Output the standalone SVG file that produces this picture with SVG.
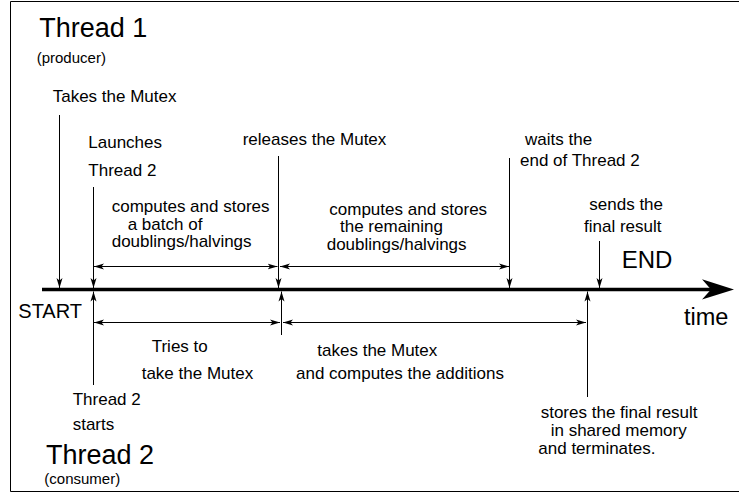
<svg xmlns="http://www.w3.org/2000/svg" width="739" height="493" viewBox="0 0 739 493">
<style>
text{font-family:"Liberation Sans",Arial,Helvetica,sans-serif;fill:#000}
.lbl{font-size:17px}
.small{font-size:15px}
.big{font-size:27px}
.ln{stroke:#000;stroke-width:1;fill:none}
.dn{marker-end:url(#ah)}
.dbl{marker-start:url(#ah);marker-end:url(#ah)}
</style>
<defs>
<marker id="ah" markerUnits="userSpaceOnUse" markerWidth="10" markerHeight="7" refX="10" refY="3.5" orient="auto-start-reverse" viewBox="0 0 10 7">
<path d="M0,0.5 L10,3.5 L0,6.5 L2.5,3.5 z" fill="#000"/>
</marker>
</defs>
<rect width="739" height="493" fill="#fff"/>
<path d="M740 1.5 H10.5 V491.5 H740" fill="none" stroke="#000" stroke-width="1"/>

<g id="axis">
<line x1="42" y1="289.5" x2="712" y2="289.5" stroke="#000" stroke-width="3.5"/>
<polygon points="702,279.3 734,289.5 702,299.5 711,289.5" fill="#000"/>
<text x="18.3" y="318.3" style="font-size:20px">START</text>
<text x="621.7" y="268.3" style="font-size:24px">END</text>
<text x="684" y="325" style="font-size:23.5px">time</text>
</g>

<g id="thread1">
<text class="big" x="39.3" y="37">Thread 1</text>
<text class="small" x="36.7" y="62.5">(producer)</text>
</g>
<g id="thread2">
<text class="big" x="46" y="464">Thread 2</text>
<text class="small" x="44.3" y="484">(consumer)</text>
</g>

<g id="connectors">
<path class="ln dn" d="M59.5 115 V288"/>
<path class="ln dn" d="M93.5 187 V288"/>
<path class="ln dn" d="M93.5 385 V291.5"/>
<path class="ln dn" d="M278.5 156 V288"/>
<path class="ln dn" d="M281.5 335 V291.5"/>
<path class="ln dn" d="M509.5 158 V288"/>
<path class="ln dn" d="M599.5 241 V288"/>
<path class="ln dn" d="M587.5 397 V291.5"/>
<path class="ln dbl" d="M94 266.5 H277.5"/>
<path class="ln dbl" d="M280 266.5 H509"/>
<path class="ln dbl" d="M94 322.5 H280"/>
<path class="ln dbl" d="M283 322.5 H586"/>
</g>

<g id="takes-mutex"><text class="lbl" x="52.7" y="101.7">Takes the Mutex</text></g>
<g id="launches"><text class="lbl" x="88.3" y="148.3">Launches</text><text class="lbl" x="88.3" y="176">Thread 2</text></g>
<g id="releases"><text class="lbl" x="242.7" y="145">releases the Mutex</text></g>
<g id="waits"><text class="lbl" x="525" y="145">waits the</text><text class="lbl" x="520" y="166">end of Thread 2</text></g>
<g id="batch"><text class="lbl" x="111.7" y="212">computes and stores</text><text class="lbl" x="127.7" y="229.5">a batch of</text><text class="lbl" x="111.7" y="247">doublings/halvings</text></g>
<g id="remaining"><text class="lbl" x="329.3" y="214.5">computes and stores</text><text class="lbl" x="340" y="232.3">the remaining</text><text class="lbl" x="326.7" y="249.5">doublings/halvings</text></g>
<g id="sends"><text class="lbl" x="589.3" y="210">sends the</text><text class="lbl" x="584" y="232.3">final result</text></g>
<g id="tries"><text class="lbl" x="151.7" y="351.7">Tries to</text><text class="lbl" x="141.7" y="378.5">take the Mutex</text></g>
<g id="takes-add"><text class="lbl" x="317.3" y="356">takes the Mutex</text><text class="lbl" x="296" y="378.5">and computes the additions</text></g>
<g id="starts"><text class="lbl" x="72.7" y="405">Thread 2</text><text class="lbl" x="72.7" y="430">starts</text></g>
<g id="stores"><text class="lbl" x="540.7" y="418.3">stores the final result</text><text class="lbl" x="550.7" y="436">in shared memory</text><text class="lbl" x="538.3" y="454">and terminates.</text></g>
</svg>
